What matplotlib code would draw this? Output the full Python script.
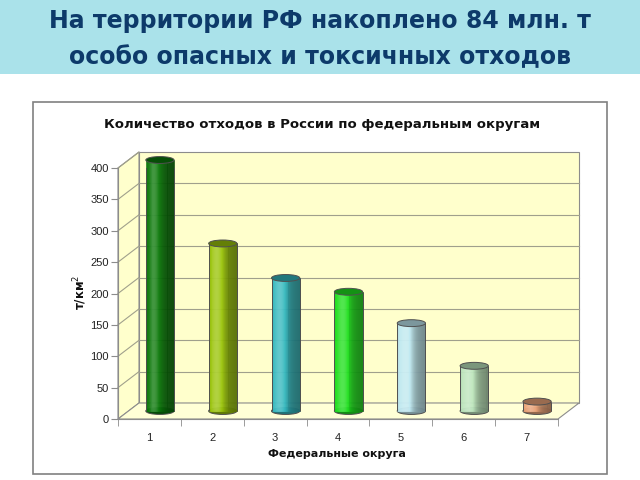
import matplotlib
matplotlib.use('Agg')
import numpy as np
import matplotlib.pyplot as plt
from matplotlib.colors import to_rgb
from matplotlib.patches import Rectangle, Polygon, Ellipse
from matplotlib.lines import Line2D
from matplotlib.transforms import Affine2D, IdentityTransform

# data
districts = ['1', '2', '3', '4', '5', '6', '7']
waste = [400, 267, 212, 190, 140, 72, 15]
bar_colors = ['#0a780a', '#9ac40a', '#33b8c0', '#1ee01e', '#bfe9f2', '#bde6be', '#eca57a']
y_ticks = [0, 50, 100, 150, 200, 250, 300, 350, 400]

banner_lines = ['На территории РФ накоплено 84 млн. т',
                'особо опасных и токсичных отходов']
chart_title = 'Количество отходов в России по федеральным округам'
x_title = 'Федеральные округа'
y_title = 'т/км$^2$'

plt.rcParams['font.family'] = ['Liberation Sans', 'DejaVu Sans']

W, H = 640, 480
fig = plt.figure(figsize=(W / 100, H / 100), dpi=100)

# banner and chart frame
fig.add_artist(Rectangle((0, 1 - 74 / H), 1, 74 / H, transform=fig.transFigure,
                         fc='#aae2ea', ec='none', zorder=0))
fig.add_artist(Rectangle((33 / W, 1 - 474 / H), 574 / W, 372 / H, transform=fig.transFigure,
                         fc='white', ec='#808080', lw=1.2, zorder=0))
for yb, line in zip([28, 64], banner_lines):
    fig.text(0.5, 1 - yb / H, line, ha='center', va='baseline', family='DejaVu Sans',
             fontsize=17, fontweight='bold', color='#0d3a6a')

# front plane of the 3d box
ax = fig.add_axes([118 / W, 1 - 419 / H, 440 / W, 251 / H])
ax.set_xlim(0.5, len(waste) + 0.5)
ax.set_ylim(0, 400)
ax.patch.set_visible(False)
for s in ['top', 'right']:
    ax.spines[s].set_visible(False)
for s in ['left', 'bottom']:
    ax.spines[s].set_color('#8c8c8c')
    ax.spines[s].set_linewidth(0.8)

dx, dy = 21, 16
back = ax.transData + Affine2D().translate(dx, dy)
mid = ax.transData + Affine2D().translate(dx / 2, dy / 2)
x0, x1 = 0.5, len(waste) + 0.5
wall = '#ffffcc'
edge = '#8c8c8c'
grid = '#a0a08c'


def px(x, y, off=(0, 0)):
    p = ax.transData.transform((x, y))
    return (p[0] + off[0], p[1] + off[1])


ax.add_patch(Rectangle((x0, 0), x1 - x0, 400, transform=back, fc=wall, ec=edge,
                       lw=0.8, zorder=0, clip_on=False))
ax.add_patch(Polygon([px(x0, 0), px(x0, 400), px(x0, 400, (dx, dy)), px(x0, 0, (dx, dy))],
                     transform=IdentityTransform(), fc=wall, ec=edge, lw=0.8,
                     zorder=0, clip_on=False))
ax.add_patch(Polygon([px(x0, 0), px(x1, 0), px(x1, 0, (dx, dy)), px(x0, 0, (dx, dy))],
                     transform=IdentityTransform(), fc='#ffffd6', ec=edge, lw=0.8,
                     zorder=0, clip_on=False))
for v in y_ticks[1:-1]:
    ax.plot([x0, x1], [v, v], transform=back, color=grid, lw=0.8, zorder=0.5, clip_on=False)
for v in y_ticks[1:]:
    a, b = px(x0, v), px(x0, v, (dx, dy))
    ax.add_line(Line2D([a[0], b[0]], [a[1], b[1]], transform=IdentityTransform(),
                       color=grid, lw=0.8, zorder=0.5, clip_on=False))

# cylinders
xs = np.arange(1, len(waste) + 1)
bw = 0.45
ell_h = 11
n = 30


def shade(c, t):
    r = np.array(to_rgb(c))
    b = 0.82 + 0.45 * np.exp(-((t - 0.3) / 0.25) ** 2) - 0.25 * t
    if b > 1:
        return tuple(r + (1 - r) * min(b - 1, 1))
    return tuple(r * b)


for x, c in zip(xs, bar_colors):
    ax.add_patch(Ellipse((x, 0), bw, ell_h, transform=mid, fc=shade(c, 0.8),
                         ec='#505050', lw=0.7, zorder=2.9, clip_on=False))
for j in range(n):
    t = (j + 0.5) / n
    cols = [shade(c, t) for c in bar_colors]
    ax.bar(xs - bw / 2 + t * bw, waste, width=bw / n, color=cols, edgecolor=cols,
           lw=0.4, transform=mid, zorder=3, clip_on=False)
ax.vlines(xs - bw / 2, 0, waste, transform=mid, color='#505050', lw=0.7, zorder=3.1)
ax.vlines(xs + bw / 2, 0, waste, transform=mid, color='#505050', lw=0.7, zorder=3.1)
for x, v, c in zip(xs, waste, bar_colors):
    ax.add_patch(Ellipse((x, v), bw, ell_h, transform=mid, fc=shade(c, 0.75),
                         ec='#505050', lw=0.7, zorder=3.2, clip_on=False))

ax.set_xlim(x0, x1)
ax.set_ylim(0, 400)
ax.set_yticks(y_ticks)
ax.tick_params(axis='y', length=5, color=edge, labelsize=8, pad=1.5, labelcolor='#222222')
ax.set_xticks(xs)
ax.set_xticklabels(districts)
ax.set_xticks(np.arange(x0, x1 + 0.1, 1), minor=True)
ax.tick_params(axis='x', which='major', length=0, pad=10, labelsize=8, labelcolor='#222222')
ax.tick_params(axis='x', which='minor', length=5, color=edge)

fig.text(322 / W, 1 - 128 / H, chart_title, ha='center', va='baseline', family='DejaVu Sans',
         fontsize=9.5, fontweight='bold', color='#111111')
fig.text(337 / W, 1 - 457 / H, x_title, ha='center', va='baseline', family='DejaVu Sans',
         fontsize=8, fontweight='bold', color='#111111')
fig.text(80 / W, 1 - 292 / H, y_title, ha='center', va='center', rotation=90,
         family='DejaVu Sans', fontsize=8.5, fontweight='bold', color='#111111')

fig.savefig('out.png', dpi=100)
